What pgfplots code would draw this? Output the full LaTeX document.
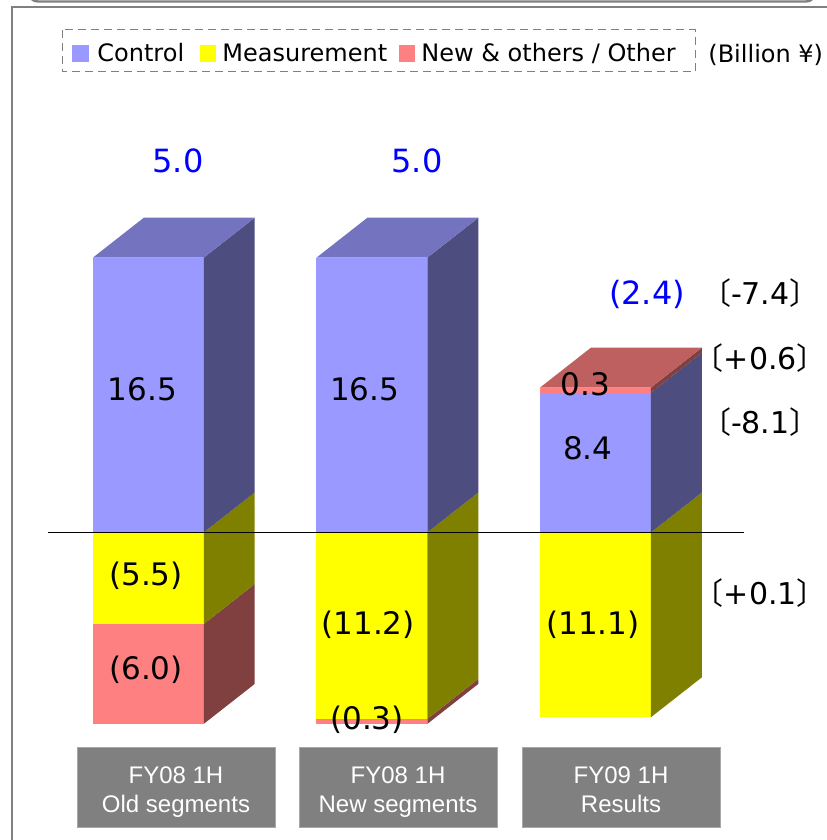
\documentclass[border=0pt]{standalone}
\usepackage{pgfplots}
\pgfplotsset{compat=1.18}
\usepackage{fontspec}
\setmainfont{DejaVu Sans}
\newfontfamily\jp{Noto Sans CJK JP}
\newfontfamily\dv{DejaVu Sans}
\newfontfamily\arialf{Liberation Sans}
\definecolor{ctrlF}{HTML}{9999FF}
\definecolor{ctrlS}{HTML}{4D4D80}
\definecolor{ctrlT}{HTML}{7373BF}
\definecolor{measF}{HTML}{FFFF00}
\definecolor{measS}{HTML}{808000}
\definecolor{newF}{HTML}{FF8080}
\definecolor{newS}{HTML}{804040}
\definecolor{newT}{HTML}{BF6060}
\definecolor{frameG}{HTML}{808080}
\definecolor{boxG}{HTML}{808080}
\definecolor{boxB}{HTML}{A8A8A8}
\definecolor{valblue}{HTML}{0000FF}

\def\hw{0.248}\def\dx{0.228}\def\dy{2.40}

% front + side face of one stacked segment: centre, bottom, top, front colour, side colour
\newcommand{\seg}[5]{%
  \pgfmathsetmacro{\xl}{#1-\hw}%
  \pgfmathsetmacro{\xr}{#1+\hw}%
  \pgfmathsetmacro{\xrb}{#1+\hw+\dx}%
  \pgfmathsetmacro{\ab}{#2+\dy}%
  \pgfmathsetmacro{\bb}{#3+\dy}%
  \edef\segcmd{%
    \noexpand\addplot[fill=#4,draw=none,forget plot] coordinates {(\xl,#2) (\xr,#2) (\xr,#3) (\xl,#3)};%
    \noexpand\addplot[fill=#5,draw=none,forget plot] coordinates {(\xr,#2) (\xrb,\ab) (\xrb,\bb) (\xr,#3)};}%
  \segcmd}
% top face: centre, top value, colour
\newcommand{\topf}[3]{%
  \pgfmathsetmacro{\xl}{#1-\hw}%
  \pgfmathsetmacro{\xr}{#1+\hw}%
  \pgfmathsetmacro{\xlb}{#1-\hw+\dx}%
  \pgfmathsetmacro{\xrb}{#1+\hw+\dx}%
  \pgfmathsetmacro{\bb}{#2+\dy}%
  \edef\segcmd{%
    \noexpand\addplot[fill=#3,draw=none,forget plot] coordinates {(\xl,#2) (\xr,#2) (\xrb,\bb) (\xlb,\bb)};}%
  \segcmd}
\newcommand{\bl}{{\jp 〔}}
\newcommand{\br}{{\jp 〕}}

\begin{document}
\begin{tikzpicture}[
  lab/.style={font=\dv\fontsize{15.5}{18}\selectfont, inner sep=0pt, text height=0.73em, text depth=0pt, anchor=center},
  tot/.style={font=\dv\fontsize{16}{18}\selectfont, text=valblue, inner sep=0pt, text height=0.73em, text depth=0pt, anchor=center},
  brk/.style={font=\dv\fontsize{15}{18}\selectfont, inner sep=0pt, text height=0.73em, text depth=0pt, anchor=center},
  leg/.style={font=\dv\fontsize{12}{14}\selectfont, inner sep=0pt, anchor=base west},
  cat/.style={font=\arialf\fontsize{12}{14}\selectfont, text=white, inner sep=0pt, anchor=base}
]
\begin{axis}[
  at={(0,0)}, anchor=south west,
  width=413pt, height=420pt, scale only axis,
  xmin=-0.6632, xmax=3.0309, ymin=-18.474, ymax=31.976,
  axis lines=none, clip=false
]
% Bar 1: FY08 1H Old segments
\seg{0}{-11.5}{-5.5}{newF}{newS}
\seg{0}{-5.5}{0}{measF}{measS}
\seg{0}{0}{16.5}{ctrlF}{ctrlS}
\topf{0}{16.5}{ctrlT}
% Bar 2: FY08 1H New segments
\seg{1}{-11.5}{-11.2}{newF}{newS}
\seg{1}{-11.2}{0}{measF}{measS}
\seg{1}{0}{16.5}{ctrlF}{ctrlS}
\topf{1}{16.5}{ctrlT}
% Bar 3: FY09 1H Results
\seg{2}{-11.1}{0}{measF}{measS}
\seg{2}{0}{8.4}{ctrlF}{ctrlS}
\seg{2}{8.4}{8.7}{newF}{newS}
\topf{2}{8.7}{newT}
% zero line
\addplot[black, line width=0.75pt, forget plot] coordinates {(-0.4486,0) (2.664,0)};

% segment labels
\node[lab] at (axis cs:-0.026,8.37) {16.5};
\node[lab] at (axis cs:-0.010,-2.74) {(5.5)};
\node[lab] at (axis cs:-0.010,-8.37) {(6.0)};
\node[lab] at (axis cs:0.967,8.37) {16.5};
\node[lab] at (axis cs:0.983,-5.68) {(11.2)};
\node[lab] at (axis cs:0.978,-11.37) {(0.3)};
\node[lab] at (axis cs:1.966,4.83) {8.4};
\node[lab] at (axis cs:1.954,8.65) {0.3};
\node[lab] at (axis cs:1.989,-5.68) {(11.1)};
% totals
\node[tot] at (axis cs:0.133,22.07) {5.0};
\node[tot] at (axis cs:1.202,22.07) {5.0};
\node[tot] at (axis cs:2.230,14.12) {(2.4)};
% changes
\node[brk] at (axis cs:2.737,14.12) {\bl-7.4\br};
\node[brk] at (axis cs:2.737,10.25) {\bl+0.6\br};
\node[brk] at (axis cs:2.737,6.35) {\bl-8.1\br};
\node[brk] at (axis cs:2.737,-3.88) {\bl+0.1\br};
\end{axis}

% decorations in pixel units
\begin{scope}[x=0.5pt, y=-0.5pt, shift={(0,420pt)}]
  % panel frame
  \draw[frameG, line width=1.2pt, rounded corners=5pt] (28,-20) rectangle (816,1.5);
  \draw[frameG, line width=1pt] (12,850) -- (12,7) -- (840,7);
  % legend
  \draw[frameG, line width=0.5pt, dash pattern=on 4pt off 2.5pt] (62,30) rectangle (695,72);
  \fill[ctrlF] (72,45) rectangle (88.5,62);
  \fill[measF] (200,45) rectangle (216,62);
  \fill[newF] (399,45) rectangle (415,62);
  \node[leg] at (97,62) {Control};
  \node[leg] at (222,62) {Measurement};
  \node[leg] at (421,62) {New \& others / Other};
  \node[leg] at (708,63) {(Billion ¥)};
  % category boxes
  \foreach \cx/\la/\lb in {176/FY08 1H/Old segments, 398/FY08 1H/New segments, 621/FY09 1H/Results}{
    \filldraw[fill=boxG, draw=boxB, line width=0.5pt] (\cx-99,748) rectangle (\cx+99,828);
    \node[cat] at (\cx,783.3) {\la};
    \node[cat] at (\cx,812.3) {\lb};
  }
\end{scope}
\pgfresetboundingbox
\useasboundingbox (0,0) rectangle (413pt,420pt);
\end{tikzpicture}
\end{document}
